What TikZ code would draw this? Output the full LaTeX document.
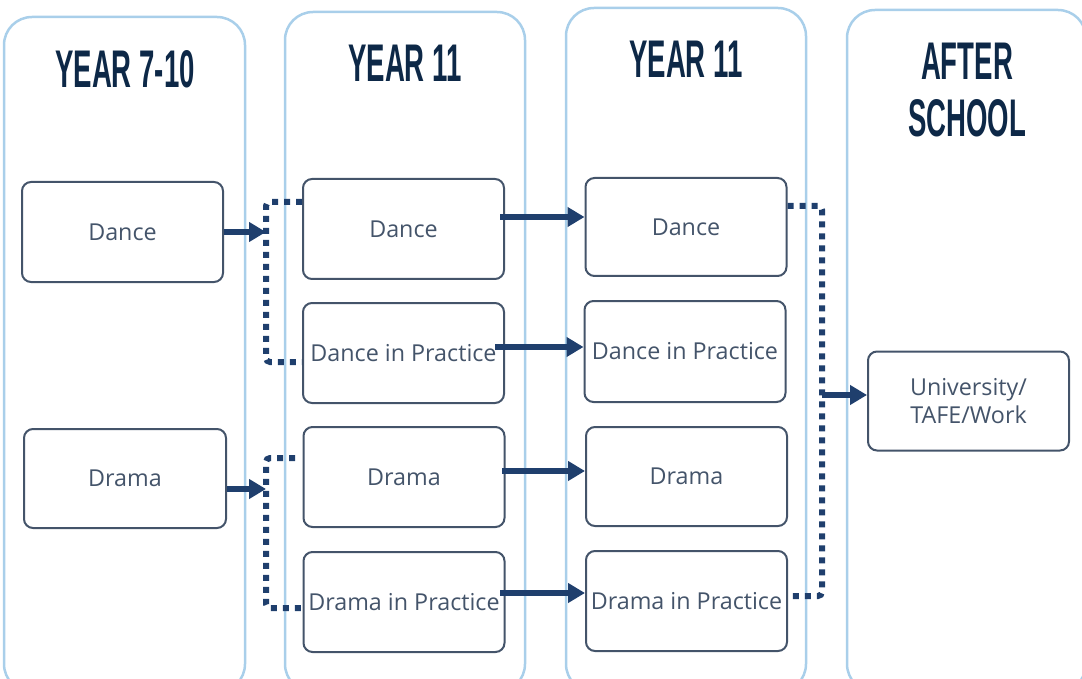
\documentclass[tikz,border=0pt]{standalone}
\usepackage{fontspec}
\setmainfont{Open Sans}
\newfontfamily\headfont{Liberation Sans}[FakeStretch=0.52]
\usetikzlibrary{arrows.meta}
\definecolor{colblue}{HTML}{A9CFEA}
\definecolor{boxc}{HTML}{44546A}
\definecolor{navy}{HTML}{1F3F6D}
\definecolor{headc}{HTML}{0D2847}
\tikzset{
  colbox/.style={draw=colblue, line width=2.5pt, rounded corners=28pt},
  stagebox/.style={draw=boxc, line width=2pt, rounded corners=9pt, fill=white,
    text=boxc, font=\fontsize{23.3}{28}\selectfont, inner sep=0pt,
    minimum width=201pt, minimum height=100pt, align=center},
  heading/.style={text=headc, font=\headfont\bfseries\fontsize{53}{56}\selectfont, anchor=base, inner sep=0pt},
  arr/.style={draw=navy, line width=5.5pt, -{Triangle[length=17pt,width=19pt]}},
  dotline/.style={draw=navy, line width=6pt, dash pattern=on 6pt off 6pt, rounded corners=4pt}
}
\begin{document}
\begin{tikzpicture}[x=1pt,y=-1pt]
\useasboundingbox (0,0) rectangle (1082,679);
% columns
\draw[colbox] (4,17) rectangle (245,692);
\draw[colbox] (285,12) rectangle (525,692);
\draw[colbox] (566,8) rectangle (806,692);
\draw[colbox] (847,10) rectangle (1086,692);
% headings
\node[heading] (h1) at (125,88) {YEAR 7-10};
\node[heading] (h2) at (405,82) {YEAR 11};
\node[heading] (h3) at (686,78) {YEAR 11};
\node[heading] (h4a) at (967,80) {AFTER};
\node[heading] (h4b) at (967,137) {SCHOOL};
% boxes
\node[stagebox] (c1a) at (122.5,232) {Dance};
\node[stagebox, minimum width=202pt, minimum height=99pt] (c1b) at (125,478.5) {Drama};
\node[stagebox] (c2a) at (403.5,229) {Dance};
\node[stagebox] (c2b) at (403.5,353) {Dance in Practice};
\node[stagebox] (c2c) at (404,477) {Drama};
\node[stagebox] (c2d) at (404,602) {Drama in Practice};
\node[stagebox, minimum height=98pt] (c3a) at (686,227) {Dance};
\node[stagebox, minimum height=101pt] (c3b) at (685,351.5) {Dance in Practice};
\node[stagebox, minimum height=99pt] (c3c) at (686.5,476.5) {Drama};
\node[stagebox] (c3d) at (686.5,601) {Drama in Practice};
\node[stagebox, minimum height=99pt] (u) at (968.5,401) {University/\\TAFE/Work};
% bracket coordinates
\coordinate (bl1) at (266,202);
\coordinate (bl1b) at (266,362);
\coordinate (bl2) at (266,458);
\coordinate (bl2b) at (266,608);
\coordinate (br) at (822,206);
\coordinate (brb) at (822,596);
% dotted brackets
\draw[dotline] (c2a.west |- bl1) -- (bl1) -- (bl1b) -- (c2b.west |- bl1b);
\draw[dotline] (295,458) -- (bl2) -- (bl2b) -- (c2d.west |- bl2b);
\draw[dotline] (c3a.east |- br) -- (br) -- (brb) -- (c3d.east |- brb);
% arrows
\draw[arr] (c1a.east) -- (c1a.east -| bl1);
\draw[arr] (c1b.east |- 0,489) -- (bl2 |- 0,489);
\draw[arr] (500,217) -- (c3a.west |- 0,217);
\draw[arr] (495,347) -- (c3b.west |- 0,347);
\draw[arr] (502,471) -- (c3c.west |- 0,471);
\draw[arr] (500,593) -- (c3d.west |- 0,593);
\draw[arr] (br |- 0,395) -- (u.west |- 0,395);
\end{tikzpicture}
\end{document}
